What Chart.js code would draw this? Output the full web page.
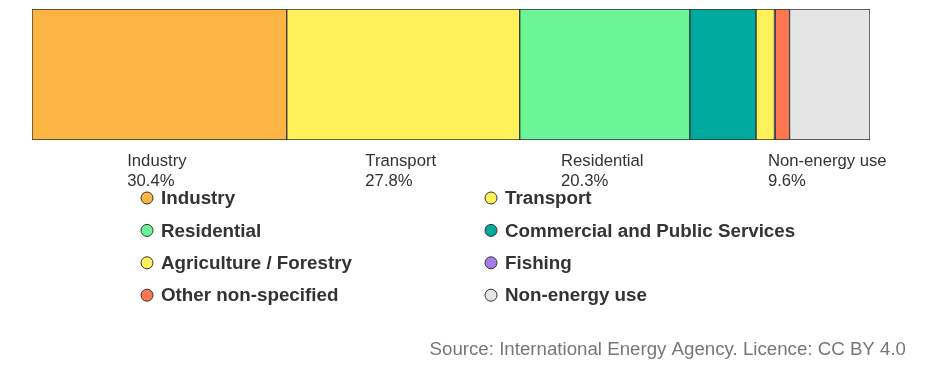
<!DOCTYPE html>
<html>
<head>
<meta charset="utf-8">
<script src="https://cdn.jsdelivr.net/npm/chart.js@4/dist/chart.umd.min.js"></script>
<style>
  html, body { margin: 0; padding: 0; background: #fff; }
  #wrap { width: 938px; height: 371px; position: relative; }
</style>
</head>
<body>
<div id="wrap"><canvas id="chart"></canvas></div>
<script>
// Datos: consumo final por sector (%)
const sectores = ["Industry", "Transport", "Residential", "Commercial and Public Services",
  "Agriculture / Forestry", "Fishing", "Other non-specified", "Non-energy use"];
const valores = [30.4, 27.8, 20.3, 7.9, 2.2, 0.1, 1.7, 9.6];
const colores = ["#fcb443", "#fff159", "#6bf597", "#00a99e", "#fff159", "#a87de8", "#ff7750", "#e5e5e5"];
const categoria = [""];

const fuente = "Liberation Sans, Arial, sans-serif";

// etiquetas debajo de la barra (solo sectores grandes)
const etiquetasBarra = {
  id: "etiquetasBarra",
  afterDatasetsDraw(chart) {
    const ctx = chart.ctx;
    ctx.save();
    ctx.font = "16.7px " + fuente;
    ctx.fillStyle = "#333";
    ctx.textBaseline = "alphabetic";
    ctx.textAlign = "left";
    chart.data.datasets.forEach((ds, i) => {
      if (ds.data[0] < 9) return;
      const el = chart.getDatasetMeta(i).data[0];
      const centro = (el.x + el.base) / 2 - 2.5;
      const l1 = ds.label, l2 = ds.data[0].toFixed(1) + "%";
      const w = Math.max(ctx.measureText(l1).width, ctx.measureText(l2).width);
      const x0 = centro - w / 2;
      ctx.fillText(l1, x0, 166);
      ctx.fillText(l2, x0, 186);
    });
    ctx.restore();
  }
};

// leyenda en dos columnas
const leyenda = {
  id: "leyenda",
  afterDraw(chart) {
    const ctx = chart.ctx;
    ctx.save();
    ctx.font = "bold 18.8px " + fuente;
    ctx.textBaseline = "middle";
    chart.data.datasets.forEach((ds, i) => {
      const col = i % 2, fila = Math.floor(i / 2);
      const cx = col === 0 ? 147 : 491;
      const cy = 198 + fila * 32.4;
      ctx.beginPath();
      ctx.arc(cx, cy, 6, 0, Math.PI * 2);
      ctx.fillStyle = ds.backgroundColor;
      ctx.fill();
      ctx.lineWidth = 1;
      ctx.strokeStyle = "#333";
      ctx.stroke();
      ctx.fillStyle = "#333";
      ctx.fillText(ds.label, cx + 14, cy + 1);
    });
    ctx.font = "18.7px " + fuente;
    ctx.fillStyle = "#777";
    ctx.textAlign = "right";
    ctx.textBaseline = "alphabetic";
    ctx.fillText("Source: International Energy Agency. Licence: CC BY 4.0", 906, 355);
    ctx.restore();
  }
};

new Chart(document.getElementById("chart"), {
  type: "bar",
  data: {
    labels: categoria,
    datasets: sectores.map((s, i) => ({
      label: s,
      data: [valores[i]],
      backgroundColor: colores[i],
      borderColor: "#333",
      borderWidth: 1,
      borderSkipped: false,
      barPercentage: 1,
      categoryPercentage: 1
    }))
  },
  options: {
    indexAxis: "y",
    responsive: true,
    maintainAspectRatio: false,
    animation: false,
    layout: { padding: { left: 32, right: 68, top: 9, bottom: 231 } },
    scales: {
      x: { stacked: true, min: 0, max: 100, display: false },
      y: { stacked: true, display: false }
    },
    plugins: {
      legend: { display: false },
      tooltip: { enabled: false }
    }
  },
  plugins: [etiquetasBarra, leyenda]
});
</script>
</body>
</html>
